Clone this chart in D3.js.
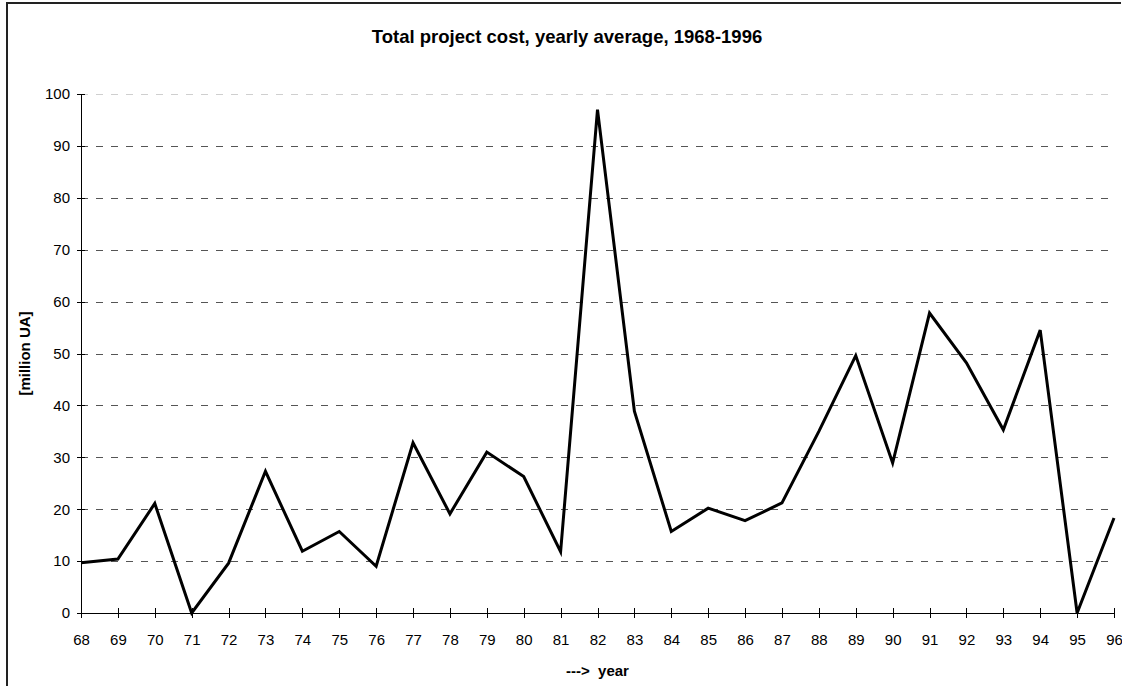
<!DOCTYPE html>
<html>
<head>
<meta charset="utf-8">
<script src="https://cdn.jsdelivr.net/npm/d3@7"></script>
<style>
  body { margin: 0; background: #fff; }
  text { font-family: "Liberation Sans", Arial, sans-serif; }
  .grid line { stroke: #555; stroke-dasharray: 7,8; shape-rendering: crispEdges; }
  .grid .top line { stroke: #cfcfcf; }
  .grid path { display: none; }
  .axis path, .axis line { stroke: #000; shape-rendering: crispEdges; }
  .axis text { font-size: 15px; fill: #000; }
</style>
</head>
<body>
<div id="chart"></div>
<script>

// yearly average of total project cost, million UA
var years = [68, 69, 70, 71, 72, 73, 74, 75, 76, 77, 78, 79, 80, 81, 82,
             83, 84, 85, 86, 87, 88, 89, 90, 91, 92, 93, 94, 95, 96];
var cost = [9.7, 10.4, 21.1, 0, 9.6, 27.3, 11.9, 15.7, 9.0, 32.8, 19.1, 31.0, 26.3, 11.8, 97.0,
            38.9, 15.7, 20.2, 17.8, 21.2, 35.0, 49.6, 28.9, 57.8, 48.2, 35.3, 54.5, 0, 18.3];
var y_ticks = [0, 10, 20, 30, 40, 50, 60, 70, 80, 90, 100];

var chart_title = "Total project cost, yearly average, 1968-1996";
var x_title = "--->  year";
var y_title = "[million UA]";

function render_chart(){
	var W = 1122, H = 686;
	var left = 81, right = 1114, top = 94, bottom = 613;

	var svg = d3.select("#chart").append("svg")
		.attr("width", W)
		.attr("height", H);

	// outer frame (only top and left are visible in the picture)
	svg.append("path")
		.attr("d", "M7,686 L7,3 L1121,3")
		.attr("fill", "none")
		.attr("stroke", "#222")
		.attr("stroke-width", 2);

	var x = d3.scaleLinear().domain([years[0], years[years.length - 1]]).range([left, right]);
	var y = d3.scaleLinear().domain([0, 100]).range([bottom, top]);

	// dashed gridlines
	var grid = svg.append("g")
		.attr("class", "grid")
		.attr("transform", "translate(" + left + ",0)")
		.call(d3.axisLeft(y)
			.tickValues(y_ticks.filter(function(d){ return d > 0; }))
			.tickSize(-(right - left))
			.tickFormat(""));
	grid.selectAll(".tick").classed("top", function(d){ return d === 100; });

	// y axis
	var ya = svg.append("g")
		.attr("class", "axis")
		.attr("transform", "translate(" + left + ",0)")
		.call(d3.axisLeft(y).tickValues(y_ticks).tickSizeOuter(0).tickPadding(5));
	ya.selectAll(".tick line").attr("x1", 4).attr("x2", -4);

	// x axis
	var xa = svg.append("g")
		.attr("class", "axis")
		.attr("transform", "translate(0," + bottom + ")")
		.call(d3.axisBottom(x).tickValues(years).tickSizeOuter(0).tickPadding(15)
			.tickFormat(function(d){ return d; }));
	xa.selectAll(".tick line").attr("y1", -5).attr("y2", 5);

	// the series
	var line = d3.line()
		.x(function(d, i){ return x(years[i]); })
		.y(function(d){ return y(d); });

	svg.append("path")
		.datum(cost)
		.attr("fill", "none")
		.attr("stroke", "#000")
		.attr("stroke-width", 3)
		.attr("stroke-linejoin", "miter")
		.attr("d", line);

	// titles
	svg.append("text")
		.attr("x", 567)
		.attr("y", 43)
		.attr("text-anchor", "middle")
		.style("font-size", "18.5px")
		.style("font-weight", "bold")
		.text(chart_title);

	svg.append("text")
		.attr("x", (left + right) / 2)
		.attr("y", 676)
		.attr("text-anchor", "middle")
		.style("font-size", "15px")
		.style("font-weight", "bold")
		.attr("xml:space", "preserve")
		.style("white-space", "pre")
		.text(x_title);

	svg.append("text")
		.attr("transform", "translate(30," + (top + bottom) / 2 + ") rotate(-90)")
		.attr("text-anchor", "middle")
		.style("font-size", "15px")
		.style("font-weight", "bold")
		.text(y_title);
}

window.onload = render_chart;
</script>
</body>
</html>
